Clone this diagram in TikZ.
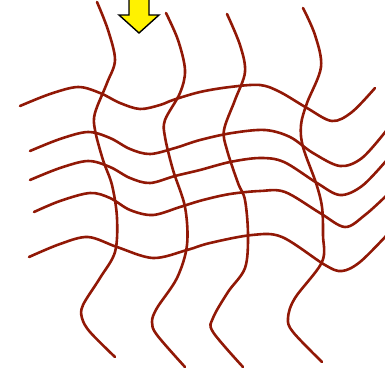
\documentclass[tikz,border=0pt]{standalone}
\definecolor{wire}{RGB}{145,24,6}
\tikzset{
  wave/.style={draw=wire, line width=2.6pt, line cap=round, line join=round},
  pointer/.style={draw=black, fill=yellow, line width=1.4pt, line join=miter},
}
\begin{document}
\begin{tikzpicture}[x=1pt,y=-1pt]
\useasboundingbox (0,0) rectangle (385,370);
% horizontal strands
\draw[wave] plot[smooth, tension=0.55] coordinates {(20,106) (50,94) (78,87) (100,93) (120,103) (140,109) (160,105) (173,100) (200,92) (230,87) (260,85) (280,92) (307,108) (332,121) (352,112) (375,88)};
\draw[wave] plot[smooth, tension=0.55] coordinates {(30,151) (60,139) (88,132) (110,138) (130,149) (150,154) (175,148) (200,140) (232,133) (265,130) (290,137) (313,153) (340,166) (362,158) (386,131)};
\draw[wave] plot[smooth, tension=0.55] coordinates {(30,180) (60,168) (88,161) (110,167) (130,178) (150,183) (175,176) (200,170) (230,162) (260,158) (284,162) (317,183) (340,195) (362,186) (386,161)};
\draw[wave] plot[smooth, tension=0.55] coordinates {(34,212) (60,201) (90,193) (110,198) (130,210) (153,215) (180,207) (203,200) (230,194) (260,191) (285,192) (320,213) (345,227) (365,215) (386,196)};
\draw[wave] plot[smooth, tension=0.55] coordinates {(29,257) (60,244) (88,237) (117,247) (153,258) (187,250) (210,243) (252,235) (282,237) (325,265) (342,271) (360,262) (386,236)};
% vertical strands
\draw[wave] plot[smooth, tension=0.55] coordinates {(97,2) (108,30) (115,60) (107,83) (95,113) (95,130) (103,160) (112,185) (117,218) (115,252) (100,278) (83,305) (82,318) (90,332) (115,357)};
\draw[wave] plot[smooth, tension=0.55] coordinates {(166,13) (178,40) (185,70) (180,93) (165,120) (165,137) (173,170) (185,207) (187,245) (177,278) (157,308) (152,322) (157,335) (185,367)};
\draw[wave] plot[smooth, tension=0.55] coordinates {(227,14) (240,45) (245,72) (235,100) (224,130) (227,150) (238,183) (245,200) (248,235) (245,268) (228,292) (213,318) (213,332) (243,367)};
\draw[wave] plot[smooth, tension=0.55] coordinates {(303,8) (315,35) (321,67) (307,103) (301,125) (303,147) (316,183) (322,207) (323,235) (322,262) (295,298) (288,318) (293,332) (322,362)};
% yellow arrow
\draw[pointer] (129,-3) -- (149,-3) -- (149,15) -- (159,15) -- (139,33) -- (119,15) -- (129,15) -- cycle;
\end{tikzpicture}
\end{document}
